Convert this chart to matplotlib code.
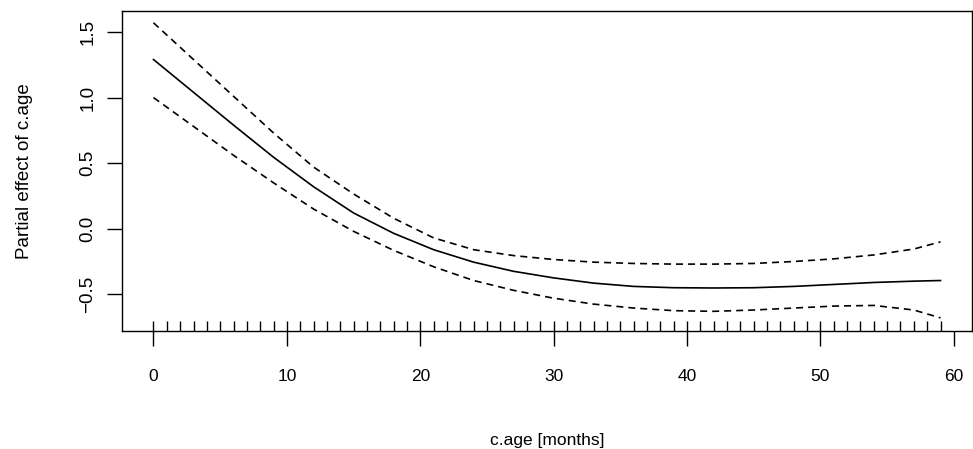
import numpy as np
import matplotlib
matplotlib.use("Agg")
import matplotlib.pyplot as plt
import matplotlib.transforms as mtransforms

plt.rcParams['font.family'] = ['Liberation Sans', 'DejaVu Sans']

# smooth term estimate
age = [0, 3, 6, 9, 12, 15, 18, 21, 24, 27, 30, 33, 36, 39, 42, 45, 48, 51, 54, 57, 59]
fit = [1.29, 1.04, 0.79, 0.545, 0.32, 0.12, -0.035, -0.16, -0.255, -0.325, -0.375,
       -0.415, -0.44, -0.45, -0.452, -0.45, -0.44, -0.425, -0.41, -0.40, -0.395]
upper = [1.57, 1.29, 1.01, 0.73, 0.47, 0.265, 0.08, -0.07, -0.16, -0.205, -0.235,
         -0.255, -0.265, -0.27, -0.27, -0.265, -0.25, -0.23, -0.20, -0.155, -0.10]
lower = [1.00, 0.78, 0.56, 0.35, 0.15, -0.02, -0.165, -0.29, -0.395, -0.47, -0.53,
         -0.575, -0.605, -0.625, -0.63, -0.62, -0.605, -0.59, -0.585, -0.62, -0.68]

# observed ages (rug)
rug_ages = [0, 1, 2, 3, 4, 5, 6, 7, 8, 9, 10, 11, 12, 13, 14, 15, 16, 17, 18, 19,
            20, 21, 22, 23, 24, 25, 26, 27, 28, 29, 30, 31, 32, 33, 34, 35, 36, 37, 38, 39,
            40, 41, 42, 43, 44, 45, 46, 47, 48, 49, 50, 51, 52, 53, 54, 55, 56, 57, 58, 59]

x_ticks = [0, 10, 20, 30, 40, 50, 60]
y_ticks = [-0.5, 0.0, 0.5, 1.0, 1.5]
y_ticklabels = ['\u22120.5', '0.0', '0.5', '1.0', '1.5']

fig = plt.figure(figsize=(9.73, 4.49), dpi=100)
ax = fig.add_axes([122 / 973, 1 - 331 / 449, 850 / 973, 320 / 449])

ax.plot(age, fit, color='black', lw=1.2)
ax.plot(age, upper, color='black', lw=1.2, dashes=(4.2, 3))
ax.plot(age, lower, color='black', lw=1.2, dashes=(4.2, 3))

# rug along the bottom
trans = mtransforms.blended_transform_factory(ax.transData, ax.transAxes)
ax.vlines(rug_ages, 0, 0.03, transform=trans, color='black', lw=1.0)

ax.set_xlim(-2.36, 61.36)
ax.set_ylim(-0.78, 1.66)

ax.set_xticks(x_ticks)
ax.set_xticklabels([str(v) for v in x_ticks], fontsize=12.5)
ax.set_yticks(y_ticks)
ax.set_yticklabels(y_ticklabels, fontsize=13.5, rotation=90, va='center')

ax.tick_params(axis='both', direction='out', length=10.5, width=1.0, color='black')
ax.tick_params(axis='x', pad=17)
ax.tick_params(axis='y', pad=8)
for sp in ax.spines.values():
    sp.set_linewidth(1.0)

ax.set_xlabel('c.age [months]', fontsize=12.5, labelpad=35)
ax.set_ylabel('Partial effect of c.age', fontsize=13.5, labelpad=33)

fig.savefig('out.png', dpi=100)
